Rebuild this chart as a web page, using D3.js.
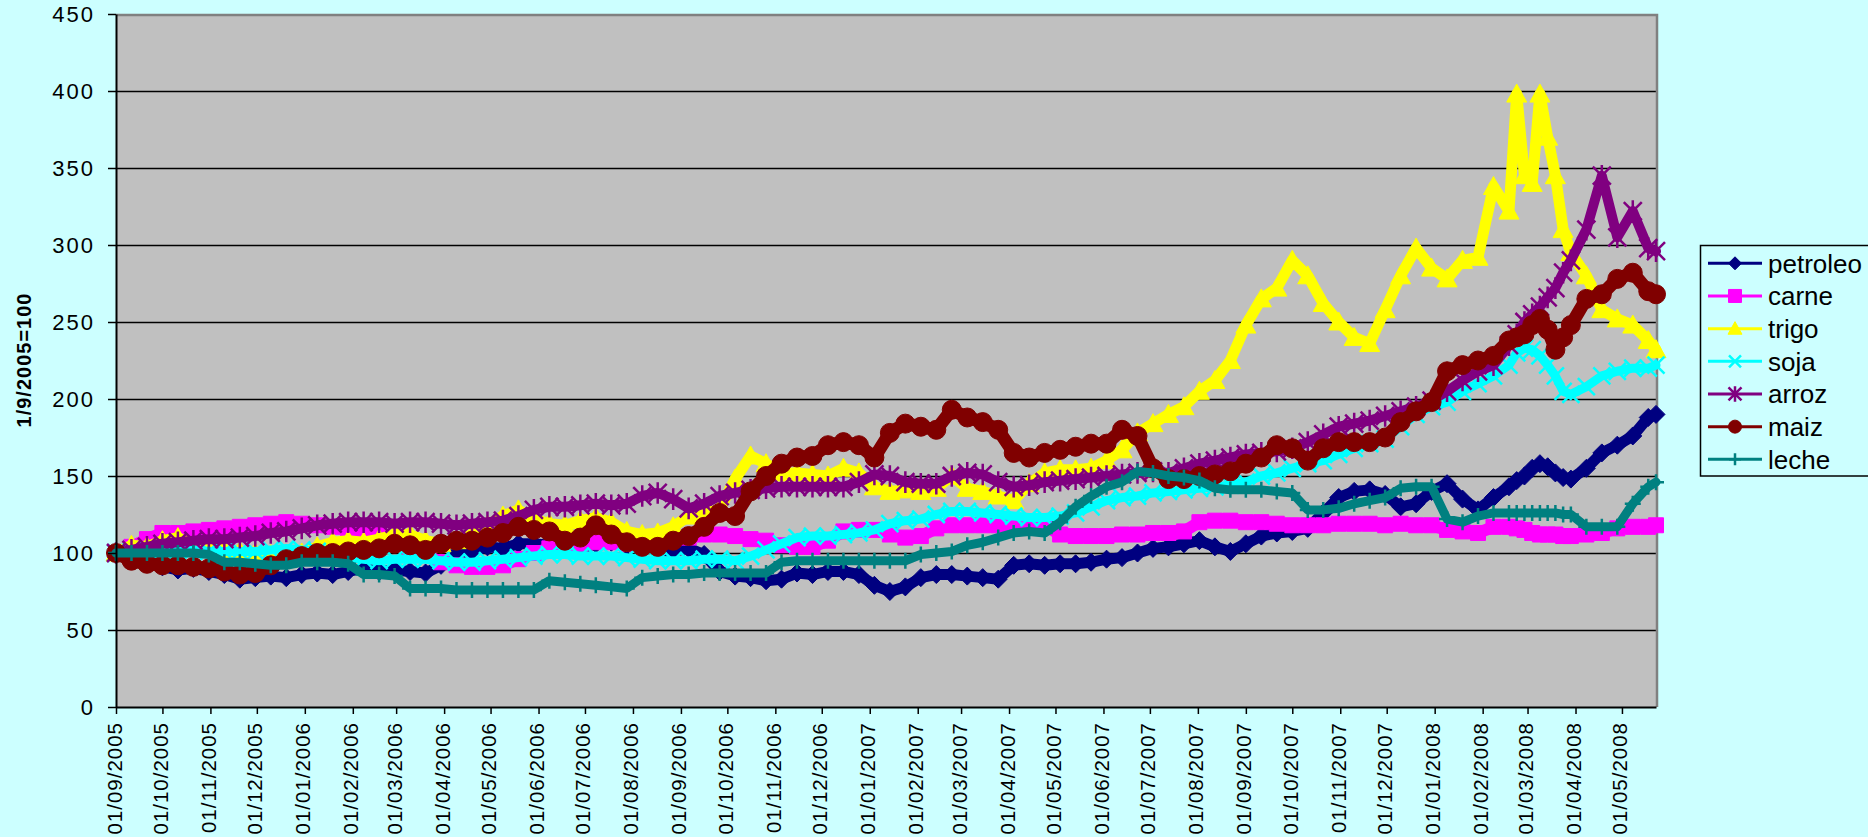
<!DOCTYPE html>
<html>
<head>
<meta charset="utf-8">
<script src="https://cdn.jsdelivr.net/npm/d3@7"></script>
<style>
  html, body { margin: 0; padding: 0; background: #ccffff; }
  svg { display: block; }
  text { font-family: "Liberation Sans", Arial, sans-serif; fill: #000; }
</style>
</head>
<body>
<div id="chart"></div>
<script>
const dayOffsets = [
  0, 10, 20, 30, 40, 50, 60, 70, 80, 90,
  100, 110, 120, 130, 140, 150, 160, 170, 180, 190,
  200, 210, 220, 230, 240, 250, 260, 270, 280, 290,
  300, 310, 320, 330, 340, 350, 360, 370, 380, 390,
  400, 410, 420, 430, 440, 450, 460, 470, 480, 490,
  500, 510, 520, 530, 540, 550, 560, 570, 580, 590,
  600, 610, 620, 630, 640, 650, 660, 670, 680, 690,
  700, 710, 720, 730, 740, 750, 760, 770, 780, 790,
  800, 810, 820, 830, 840, 850, 860, 870, 880, 890,
  900, 905, 910, 915, 920, 925, 930, 935, 940,
  950, 960, 970, 980, 990, 995
];

const petroleo = [
  100, 97, 93, 91, 89, 90, 88, 86, 83, 84,
  85, 84, 86, 87, 86, 88, 90, 88, 89, 88,
  87, 92, 100, 101, 104, 103, 106, 106, 105, 104,
  103, 106, 107, 105, 104, 102, 101, 103, 99, 88,
  85, 84, 82, 83, 87, 86, 88, 88, 86, 79,
  75, 78, 84, 86, 86, 85, 84, 83, 92, 93,
  92, 93, 93, 94, 96, 97, 100, 103, 104, 106,
  108, 104, 101, 106, 111, 113, 114, 116, 126, 136,
  140, 141, 138, 130, 132, 140, 145, 135, 128, 136,
  143, 147, 150, 155, 158, 156, 152, 149, 148,
  155, 165, 170, 176, 188, 190
];
const carne = [
  100, 104, 109, 113, 113, 114, 115, 116, 117, 118,
  119, 120, 119, 118, 117, 116, 114, 112, 108, 104,
  99, 94, 92, 91, 91, 92, 96, 100, 103, 104,
  106, 107, 107, 106, 107, 108, 109, 110, 112, 112,
  111, 109, 108, 105, 104, 104, 108, 114, 115, 115,
  112, 110, 111, 116, 118, 118, 118, 118, 119, 120,
  118, 112, 111, 111, 111, 112, 112, 113, 113, 114,
  120, 121, 121, 120, 120, 119, 118, 118, 118, 119,
  119, 119, 118, 119, 118, 118, 115, 114, 113, 117,
  117, 116, 115, 113, 112, 112, 112, 111, 111,
  112, 113, 116, 117, 117, 118
];
const trigo = [
  100, 105, 104, 108, 110, 105, 103, 102, 101, 100,
  99, 98, 100, 104, 107, 108, 107, 109, 112, 112,
  108, 106, 108, 112, 118, 124, 128, 122, 119, 118,
  121, 123, 120, 114, 112, 113, 117, 124, 126, 128,
  148, 163, 158, 152, 152, 151, 150, 155, 152, 143,
  140, 141, 140, 142, 150, 142, 140, 137, 134, 145,
  152, 154, 154, 155, 160, 167, 178, 184, 190, 195,
  205, 212, 225, 248, 265, 272, 290, 280, 262, 250,
  240, 236, 258, 280, 298, 285, 278, 290, 292, 338,
  322, 398, 345, 340, 398, 370, 345, 310, 295,
  280, 258, 252, 248, 238, 232
];
const soja = [
  100, 101, 102, 103, 102, 102, 101, 101, 101, 101,
  102, 103, 102, 101, 99, 97, 96, 95, 96, 96,
  96, 95, 94, 94, 95, 96, 97, 98, 99, 99,
  98, 98, 98, 97, 96, 95, 95, 95, 96, 96,
  95, 98, 102, 106, 110, 111, 111, 112, 113, 115,
  119, 121, 122, 125, 127, 127, 126, 125, 124, 123,
  123, 124, 126, 130, 134, 136, 137, 139, 140, 141,
  142, 143, 144, 146, 150, 152, 155, 158, 160, 164,
  168, 171, 174, 182, 190, 195, 198, 205, 210, 215,
  222, 230, 233, 232, 228, 222, 215, 205, 203,
  208, 215, 218, 220, 220, 222
];
const arroz = [
  100, 102, 104, 106, 107, 108, 109, 109, 110, 111,
  113, 114, 116, 118, 119, 120, 120, 120, 119, 120,
  120, 119, 118, 119, 120, 121, 124, 128, 130, 130,
  131, 132, 131, 132, 137, 139, 135, 129, 132, 137,
  139, 141, 142, 143, 143, 143, 143, 143, 146, 151,
  150, 146, 145, 145, 150, 152, 151, 146, 143, 144,
  146, 147, 148, 149, 150, 151, 152, 153, 152, 155,
  158, 160, 162, 164, 165, 166, 168, 172, 177, 182,
  184, 186, 189, 192, 195, 199, 205, 212, 218, 222,
  235, 242, 250, 255, 260, 266, 272, 282, 290,
  310, 345, 305, 322, 298, 296
];
const maiz = [
  100, 95, 93, 92, 92, 91, 90, 88, 86, 87,
  92, 96, 98, 100, 100, 101, 102, 103, 106, 105,
  102, 106, 108, 108, 110, 113, 117, 115, 114, 108,
  110, 118, 112, 107, 104, 104, 108, 111, 117, 126,
  124, 140, 150, 158, 162, 163, 170, 172, 170, 162,
  178, 184, 182, 180, 193, 188, 185, 180, 165, 162,
  165, 167, 169, 171, 171, 180, 176, 155, 148, 148,
  150, 151, 153, 158, 162, 170, 168, 160, 168, 172,
  172, 172, 175, 185, 192, 198, 218, 222, 225, 228,
  238, 240, 242, 248, 252, 245, 232, 240, 248,
  265, 268, 278, 282, 270, 268
];
const leche = [
  100, 100, 100, 100, 100, 100, 99, 94, 94, 93,
  92, 92, 94, 94, 94, 93, 86, 86, 85, 77,
  77, 77, 76, 76, 76, 76, 76, 76, 82, 81,
  80, 79, 78, 77, 84, 85, 86, 86, 87, 87,
  87, 87, 87, 94, 95, 95, 95, 95, 95, 95,
  95, 95, 99, 100, 101, 105, 107, 110, 113, 114,
  113, 120, 130, 137, 143, 146, 153, 152, 150, 149,
  147, 142, 141, 141, 141, 140, 139, 128, 128, 129,
  132, 134, 136, 142, 143, 143, 122, 120, 124, 126,
  126, 126, 126, 126, 126, 126, 126, 125, 125,
  117, 117, 117, 132, 143, 146
];

const seriesNames = ["petroleo", "carne", "trigo", "soja", "arroz", "maiz", "leche"];
const seriesValues = [petroleo, carne, trigo, soja, arroz, maiz, leche];
const seriesColors = ["#000080", "#ff00ff", "#ffff00", "#00ffff", "#800080", "#800000", "#008080"];
const seriesMarkers = ["diamond", "square", "triangle", "times", "asterisk", "circle", "plus"];

const yTicks = [0, 50, 100, 150, 200, 250, 300, 350, 400, 450];
const xTickLabels = [
  "01/09/2005", "01/10/2005", "01/11/2005", "01/12/2005",
  "01/01/2006", "01/02/2006", "01/03/2006", "01/04/2006", "01/05/2006", "01/06/2006",
  "01/07/2006", "01/08/2006", "01/09/2006", "01/10/2006", "01/11/2006", "01/12/2006",
  "01/01/2007", "01/02/2007", "01/03/2007", "01/04/2007", "01/05/2007", "01/06/2007",
  "01/07/2007", "01/08/2007", "01/09/2007", "01/10/2007", "01/11/2007", "01/12/2007",
  "01/01/2008", "01/02/2008", "01/03/2008", "01/04/2008", "01/05/2008"
];
const yTitle = "1/9/2005=100";

const W = 1868, H = 837;
const plot = {left: 116, right: 1656, top: 14, bottom: 707};

const parse = d3.utcParse("%d/%m/%Y");
const start = parse("01/09/2005");
const dates = dayOffsets.map(d => d3.utcDay.offset(start, d));

const x = d3.scaleUtc()
    .domain([start, parse("23/05/2008")])
    .range([plot.left, plot.right]);
const y = d3.scaleLinear()
    .domain([0, 450])
    .range([plot.bottom, plot.top]);

const svg = d3.select("#chart")
    .append("svg")
    .attr("width", W)
    .attr("height", H);

svg.append("rect").attr("width", W).attr("height", H).attr("fill", "#ccffff");

// plot area
svg.append("rect")
    .attr("x", plot.left).attr("y", plot.top)
    .attr("width", plot.right - plot.left).attr("height", plot.bottom - plot.top)
    .attr("fill", "#c0c0c0");

// gridlines
svg.append("g")
    .selectAll("line")
    .data(yTicks.filter(t => t > 0 && t < 450))
    .enter()
    .append("line")
    .attr("x1", plot.left).attr("x2", plot.right)
    .attr("y1", d => Math.round(y(d)) + 0.5).attr("y2", d => Math.round(y(d)) + 0.5)
    .attr("stroke", "#000")
    .attr("stroke-width", 1.5);

// top and right border of the plot
svg.append("path")
    .attr("d", `M${plot.left},${plot.top + 1}H${plot.right + 1}V${plot.bottom}`)
    .attr("fill", "none")
    .attr("stroke", "#808080")
    .attr("stroke-width", 2.5);

// marker shapes, r = half size
function markerPath(type, r) {
    switch (type) {
        case "diamond": return `M0,${-r}L${r},0L0,${r}L${-r},0Z`;
        case "square": return `M${-r},${-r}H${r}V${r}H${-r}Z`;
        case "triangle": return `M0,${-r}L${r},${r * 0.8}L${-r},${r * 0.8}Z`;
        case "circle": return `M${r},0A${r},${r} 0 1,1 ${-r},0A${r},${r} 0 1,1 ${r},0Z`;
        case "times": return `M${-r},${-r}L${r},${r}M${-r},${r}L${r},${-r}`;
        case "asterisk": return `M${-r},${-r}L${r},${r}M${-r},${r}L${r},${-r}M0,${-r * 1.2}V${r * 1.2}`;
        case "plus": return `M${-r},0H${r}M0,${-r}V${r}`;
    }
}
const filled = {diamond: true, square: true, triangle: true, circle: true};
const markerSize = {diamond: 9, square: 7.5, triangle: 10, circle: 9.5, times: 8.5, asterisk: 9, plus: 8};
const legendSize = {diamond: 6.5, square: 6.5, triangle: 7, circle: 6.5, times: 6, asterisk: 6.5, plus: 6};
// the daily series of the original merge into thick bands
const bandWidth = {diamond: 11, square: 12, triangle: 11, circle: 13, times: 9, asterisk: 10, plus: 9};

function drawMarker(sel, type, color, r) {
    sel.attr("d", markerPath(type, r))
        .attr("fill", filled[type] ? color : "none")
        .attr("stroke", color)
        .attr("stroke-width", filled[type] ? 1 : 2.5);
}

const line = d3.line()
    .x((d, i) => x(dates[i]))
    .y(d => y(d));

const seriesG = svg.append("g");
seriesNames.forEach(function (name, k) {
    const vals = seriesValues[k];
    const type = seriesMarkers[k];
    const g = seriesG.append("g").attr("class", "series-" + name);
    g.append("path")
        .attr("d", line(vals))
        .attr("fill", "none")
        .attr("stroke", seriesColors[k])
        .attr("stroke-width", bandWidth[type])
        .attr("stroke-linejoin", "round")
        .attr("stroke-linecap", "round");
    g.selectAll("path.mk")
        .data(vals)
        .enter()
        .append("path")
        .attr("class", "mk")
        .attr("transform", (d, i) => `translate(${x(dates[i])},${y(d)})`)
        .call(drawMarker, type, seriesColors[k], markerSize[type]);
});

// y axis
const yAxis = svg.append("g")
    .attr("transform", `translate(${plot.left},0)`)
    .call(d3.axisLeft(y).tickValues(yTicks).tickSize(8).tickSizeOuter(0).tickPadding(13));
yAxis.select(".domain").attr("stroke", "#000").attr("stroke-width", 2);
yAxis.selectAll(".tick line").attr("stroke", "#000").attr("stroke-width", 1.5);
yAxis.selectAll(".tick text")
    .attr("font-family", "Liberation Sans, Arial, sans-serif")
    .attr("font-size", 22)
    .attr("letter-spacing", 2)
    .attr("dy", "0.34em");

// x axis
const xTickDates = xTickLabels.map(parse);
const xAxis = svg.append("g")
    .attr("transform", `translate(0,${plot.bottom})`)
    .call(d3.axisBottom(x).tickValues(xTickDates).tickSize(7).tickSizeOuter(0)
        .tickFormat(d3.utcFormat("%d/%m/%Y")));
xAxis.select(".domain").attr("stroke", "#000").attr("stroke-width", 2);
xAxis.selectAll(".tick line").attr("stroke", "#000").attr("stroke-width", 1.5);
xAxis.selectAll(".tick text")
    .attr("font-family", "Liberation Sans, Arial, sans-serif")
    .attr("font-size", 20.5)
    .attr("letter-spacing", 1)
    .attr("transform", "rotate(-90)")
    .attr("text-anchor", "end")
    .attr("x", -15)
    .attr("y", 0)
    .attr("dy", 5);

// y axis title
svg.append("text")
    .attr("transform", "translate(31,360) rotate(-90)")
    .attr("text-anchor", "middle")
    .attr("font-size", 20)
    .attr("font-weight", "bold")
    .attr("letter-spacing", 1)
    .text(yTitle);

// legend
const legend = svg.append("g");
legend.append("rect")
    .attr("x", 1700.5).attr("y", 245.5)
    .attr("width", 200).attr("height", 230.5)
    .attr("fill", "none")
    .attr("stroke", "#000")
    .attr("stroke-width", 1.5);
const rowY = d3.scaleLinear().domain([0, 6]).range([263.3, 459.3]);
const items = legend.selectAll("g.item")
    .data(seriesNames)
    .enter()
    .append("g")
    .attr("class", "item")
    .attr("transform", (d, i) => `translate(0,${rowY(i)})`);
items.append("line")
    .attr("x1", 1708).attr("x2", 1762)
    .attr("stroke", (d, i) => seriesColors[i])
    .attr("stroke-width", 3);
items.append("path")
    .attr("transform", "translate(1735,0)")
    .each(function (d, i) {
        d3.select(this).call(drawMarker, seriesMarkers[i], seriesColors[i], legendSize[seriesMarkers[i]]);
    });
items.append("text")
    .attr("x", 1768)
    .attr("dy", "0.36em")
    .attr("font-size", 26)
    .text(d => d);
</script>
</body>
</html>
